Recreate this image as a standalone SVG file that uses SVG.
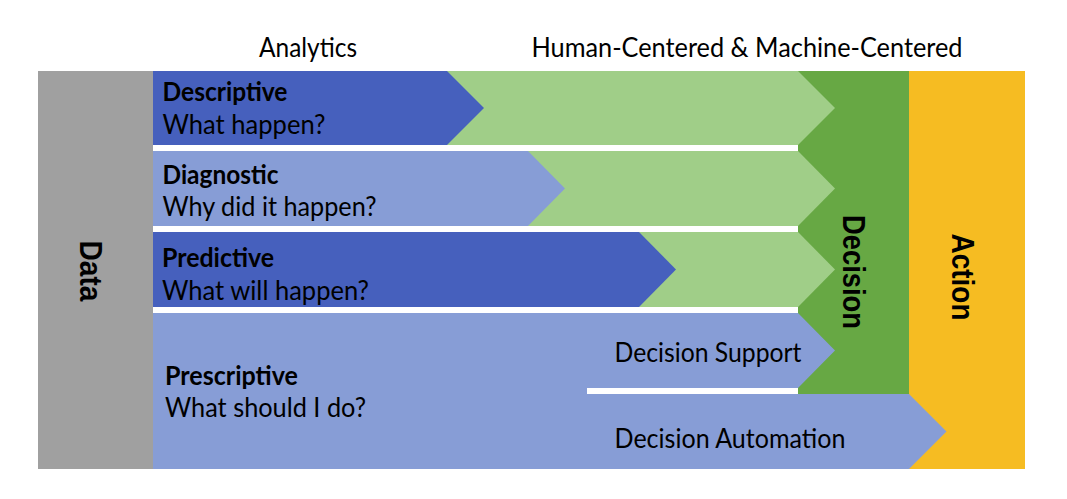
<svg xmlns="http://www.w3.org/2000/svg" width="1067" height="499" viewBox="0 0 1067 499">
  <style>
    .t { font-family: Lato, "Open Sans", "Liberation Sans", sans-serif; font-size: 27px; fill: #000; }
    .b { font-weight: bold; }
    .v { font-family: "Liberation Sans", Arial, sans-serif; font-size: 31px; font-weight: bold; fill: #000; }
    .gray { fill: #A0A0A0; }
    .yellow { fill: #F6BC22; }
    .dgreen { fill: #67A844; }
    .lgreen { fill: #A0CE88; }
    .dblue { fill: #4660BD; }
    .lblue { fill: #879DD6; }
  </style>
  <rect width="1067" height="499" fill="#FFFFFF"/>

  <g id="headers">
    <text class="t" x="259" y="56.5" textLength="98" lengthAdjust="spacingAndGlyphs">Analytics</text>
    <text class="t" x="531.5" y="56.5" textLength="431" lengthAdjust="spacingAndGlyphs">Human-Centered &amp; Machine-Centered</text>
  </g>

  <g id="data">
    <rect class="gray" x="38" y="71" width="115" height="398"/>
    <text class="v" transform="translate(79.5,271) rotate(90)" text-anchor="middle" textLength="61" lengthAdjust="spacingAndGlyphs">Data</text>
  </g>

  <g id="action">
    <rect class="yellow" x="909" y="71" width="116" height="398"/>
    <text class="v" transform="translate(952,277) rotate(90)" text-anchor="middle" textLength="87" lengthAdjust="spacingAndGlyphs">Action</text>
  </g>

  <g id="decision">
    <rect class="dgreen" x="798" y="71" width="111" height="323"/>
    <text class="v" transform="translate(843,272) rotate(90)" text-anchor="middle" textLength="114" lengthAdjust="spacingAndGlyphs">Decision</text>
  </g>

  <g id="connectors">
    <polygon class="lgreen" points="153,71 798,71 835,108 798,145 153,145"/>
    <polygon class="lgreen" points="153,151 798,151 835,188.5 798,226 153,226"/>
    <polygon class="lgreen" points="153,232 798,232 835,269.5 798,307 153,307"/>
  </g>

  <g id="descriptive">
    <polygon class="dblue" points="153,71 447,71 484,108 447,145 153,145"/>
    <text class="t b" x="162.5" y="101" textLength="125" lengthAdjust="spacingAndGlyphs">Descriptive</text>
    <text class="t" x="162.5" y="134" textLength="163" lengthAdjust="spacingAndGlyphs">What happen?</text>
  </g>

  <g id="diagnostic">
    <polygon class="lblue" points="153,151 528,151 565,188.5 528,226 153,226"/>
    <text class="t b" x="162.5" y="184" textLength="116" lengthAdjust="spacingAndGlyphs">Diagnostic</text>
    <text class="t" x="162.5" y="216" textLength="214" lengthAdjust="spacingAndGlyphs">Why did it happen?</text>
  </g>

  <g id="predictive">
    <polygon class="dblue" points="153,232 639,232 676,269.5 639,307 153,307"/>
    <text class="t b" x="162" y="266.5" textLength="112" lengthAdjust="spacingAndGlyphs">Predictive</text>
    <text class="t" x="162" y="299.5" textLength="207" lengthAdjust="spacingAndGlyphs">What will happen?</text>
  </g>

  <g id="prescriptive">
    <polygon class="lblue" points="153,313 798,313 835,350.5 798,388 587,388 587,394 909,394 946.5,431.5 909,469 153,469"/>
    <text class="t b" x="165" y="385" textLength="133" lengthAdjust="spacingAndGlyphs">Prescriptive</text>
    <text class="t" x="165" y="417" textLength="201" lengthAdjust="spacingAndGlyphs">What should I do?</text>
  </g>

  <g id="decision-support">
    <text class="t" x="614.5" y="361.5" textLength="187" lengthAdjust="spacingAndGlyphs">Decision Support</text>
  </g>

  <g id="decision-automation">
    <text class="t" x="614.5" y="447.5" textLength="231" lengthAdjust="spacingAndGlyphs">Decision Automation</text>
  </g>
</svg>
